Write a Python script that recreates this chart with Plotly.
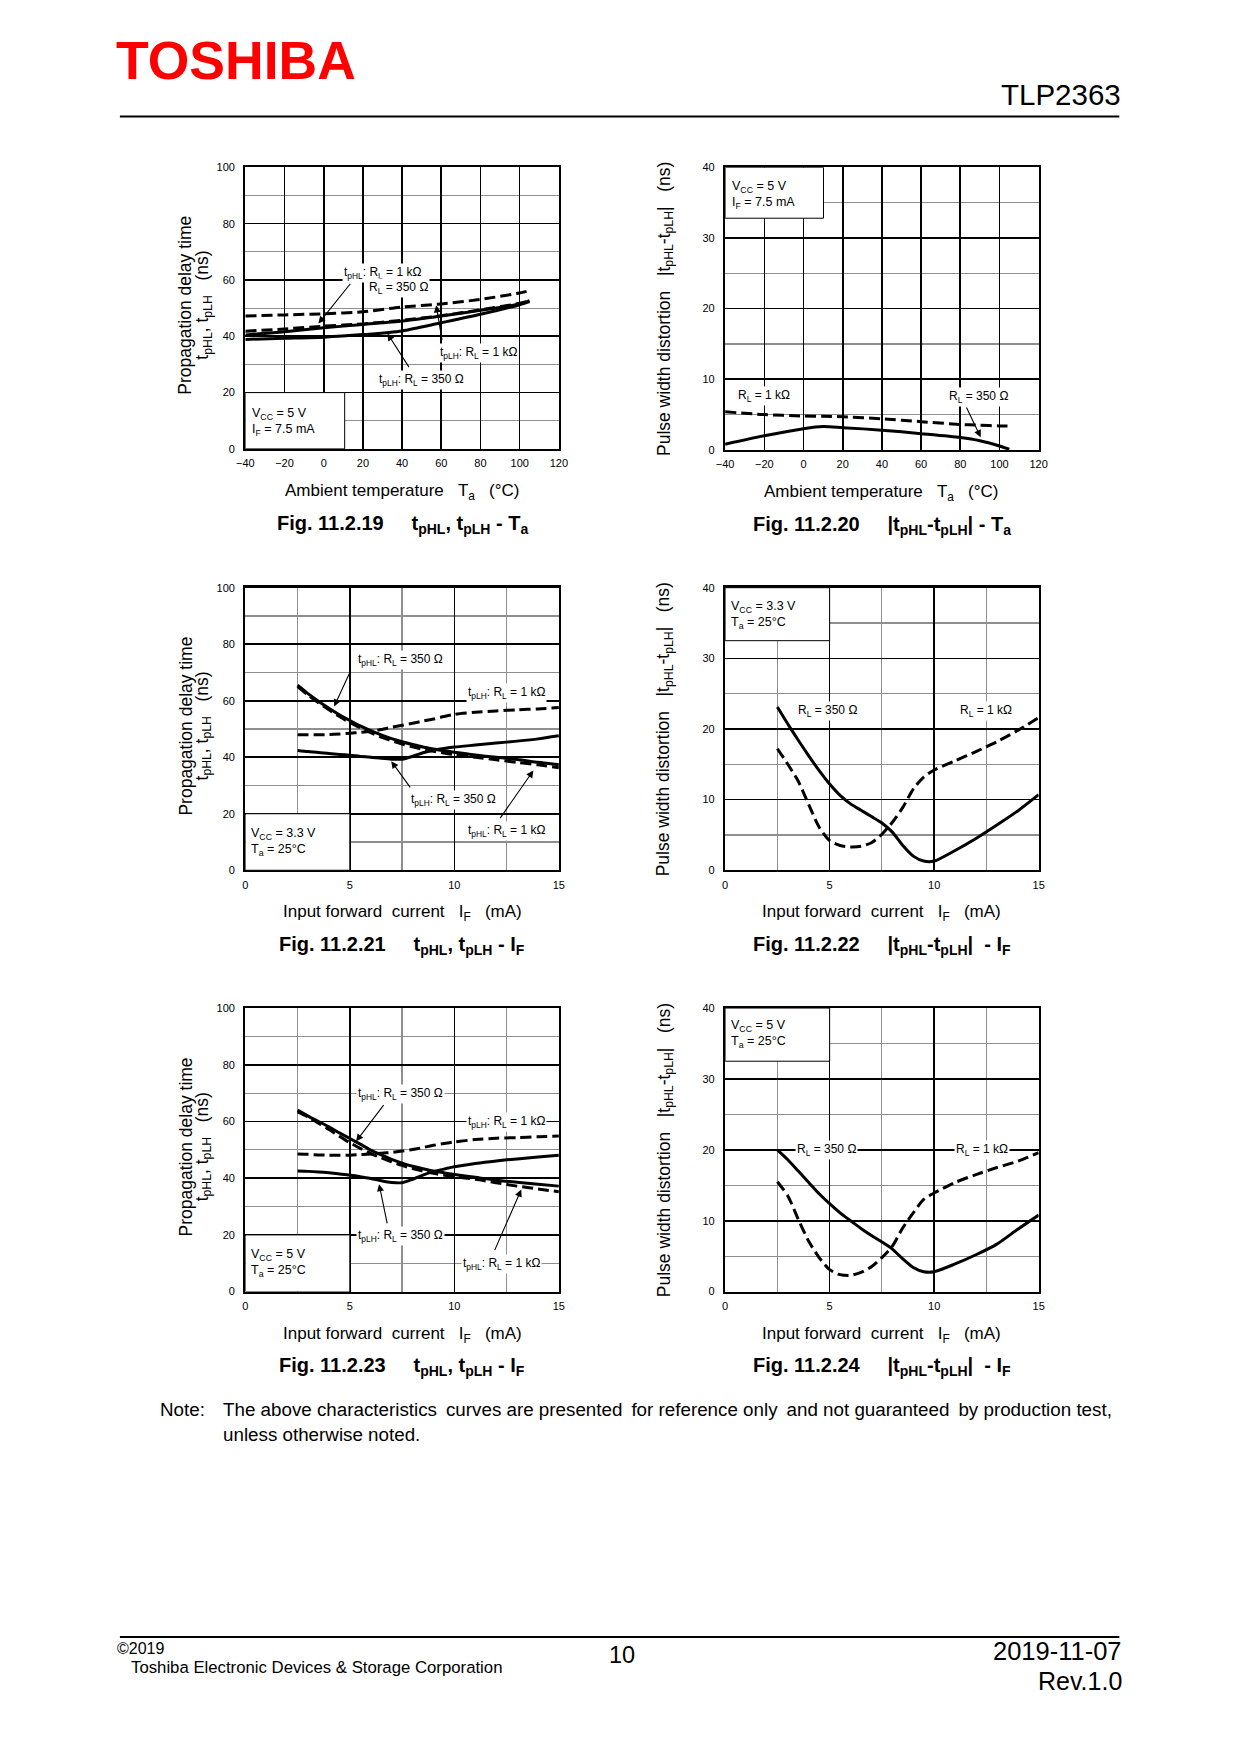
import plotly.graph_objects as go

W, H = 1240, 1754
FONT = "Arial, Liberation Sans, sans-serif"

# the photographed page comes out slightly shrunk and offset; these undo it so that
# positions below are the pixel positions wanted in the final picture
SX, OX = 0.990, 5.6
SY, OY = 0.9947, 4.4


def fx(x):
    return ((x - OX) / SX) / W


def fy(y):
    return 1 - ((y - OY) / SY) / H


# ---------------- data ----------------
# Fig. 11.2.19  tpHL, tpLH - Ta  (VCC = 5 V, IF = 7.5 mA)
ta19 = [-40, -20, 0, 20, 40, 60, 80, 100, 105]
fig19_tplh_1k = [47.2, 47.6, 48.0, 48.7, 50.4, 51.5, 53.1, 55.4, 56.2]
fig19_tphl_1k = [41.8, 42.6, 43.6, 44.4, 45.7, 47.3, 49.4, 51.7, 52.6]
fig19_tphl_350 = [40.5, 41.6, 43.0, 44.2, 45.4, 47.2, 49.2, 51.5, 52.7]
fig19_tplh_350 = [38.9, 39.3, 39.7, 40.6, 41.9, 44.8, 47.8, 51.2, 52.3]

# Fig. 11.2.20  |tpHL-tpLH| - Ta
ta20 = [-40, -20, 0, 10, 20, 40, 60, 80, 90, 100, 105]
fig20_1k = [5.4, 5.0, 4.8, 4.75, 4.7, 4.4, 4.0, 3.6, 3.5, 3.4, 3.4]
fig20_350 = [0.8, 2.0, 3.0, 3.3, 3.15, 2.8, 2.3, 1.75, 1.3, 0.56, 0.1]

# Input forward current axis for Fig. 11.2.21 - 11.2.24
if_ma = [2.5, 3, 3.5, 4, 4.5, 5, 5.5, 6, 6.5, 7, 7.5, 8, 8.5, 9, 9.5, 10, 11, 12, 13, 14, 15]

# Fig. 11.2.21  tpHL, tpLH - IF  (VCC = 3.3 V)
fig21_tphl_350 = [65.5, 62.5, 59.8, 57.3, 55.0, 53.0, 51.1, 49.4, 47.9, 46.6, 45.5, 44.5, 43.6, 42.9, 42.3, 41.8, 40.8, 40.0, 39.2, 38.2, 37.3]
fig21_tphl_1k = [65.0, 62.0, 59.3, 56.8, 54.4, 52.3, 50.4, 48.7, 47.1, 45.8, 44.7, 43.7, 42.8, 42.1, 41.5, 40.9, 40.0, 39.1, 38.2, 37.3, 36.3]
fig21_tplh_1k = [48.0, 48.0, 48.0, 48.0, 48.2, 48.5, 48.8, 49.2, 49.8, 50.6, 51.3, 52.0, 52.8, 53.5, 54.4, 55.2, 55.9, 56.4, 56.8, 57.1, 57.6]
fig21_tplh_350 = [42.4, 42.0, 41.7, 41.3, 41.0, 40.7, 40.3, 40.0, 39.6, 39.3, 39.3, 40.3, 41.6, 42.5, 43.1, 43.6, 44.3, 45.0, 45.7, 46.5, 47.6]

# Fig. 11.2.22  |tpHL-tpLH| - IF  (VCC = 3.3 V)
fig22_350 = [23.1, 20.7, 18.4, 16.2, 14.1, 12.2, 10.6, 9.4, 8.5, 7.6, 6.7, 5.4, 3.5, 2.0, 1.3, 1.3, 2.8, 4.5, 6.4, 8.4, 10.7]
fig22_1k = [17.2, 15.0, 12.6, 9.3, 6.1, 4.2, 3.5, 3.3, 3.4, 3.9, 5.1, 6.8, 8.9, 11.5, 13.2, 14.2, 15.5, 16.8, 18.2, 19.8, 21.6]

# Fig. 11.2.23  tpHL, tpLH - IF  (VCC = 5 V)
fig23_tphl_350 = [64.0, 61.9, 60.0, 58.1, 56.0, 54.0, 52.0, 49.9, 48.2, 46.6, 45.3, 44.2, 43.3, 42.5, 41.9, 41.3, 40.3, 39.3, 38.6, 37.9, 37.2]
fig23_tphl_1k = [63.4, 61.6, 59.4, 57.2, 54.8, 52.5, 50.5, 48.7, 47.2, 45.8, 44.5, 43.4, 42.5, 41.7, 41.1, 40.5, 39.6, 38.4, 37.2, 36.2, 35.2]
fig23_tplh_1k = [48.5, 48.4, 48.2, 48.1, 48.1, 48.1, 48.3, 48.5, 48.8, 49.1, 49.6, 50.1, 50.8, 51.6, 52.2, 52.8, 53.6, 54.1, 54.3, 54.6, 54.9]
fig23_tplh_350 = [42.5, 42.4, 42.2, 41.9, 41.5, 41.1, 40.5, 39.9, 39.1, 38.5, 38.4, 39.6, 41.1, 42.3, 43.2, 44.0, 45.2, 46.1, 46.8, 47.5, 48.1]

# Fig. 11.2.24  |tpHL-tpLH| - IF  (VCC = 5 V)
fig24_350 = [20.0, 18.6, 17.0, 15.4, 13.8, 12.4, 11.1, 10.0, 8.9, 7.9, 7.0, 6.0, 4.6, 3.4, 2.8, 2.8, 3.9, 5.2, 6.7, 8.8, 10.8]
fig24_1k = [15.5, 13.5, 10.2, 7.1, 4.8, 3.1, 2.4, 2.3, 2.7, 3.5, 4.8, 6.4, 9.0, 11.1, 13.0, 13.9, 15.4, 16.5, 17.5, 18.4, 19.6]

# ---------------- text ----------------
NB = "\u00a0"
YT_DELAY_1 = "Propagation delay time"
YT_DELAY_2 = "t<sub>pHL</sub>, t<sub>pLH</sub>" + NB * 3 + "(ns)"
YT_PWD = "Pulse width distortion" + NB * 3 + "|t<sub>pHL</sub>-t<sub>pLH</sub>|" + NB * 3 + "(ns)"
XT_TA = "Ambient temperature" + NB * 3 + "T<sub>a</sub>" + NB * 3 + "(°C)"
XT_IF = "Input forward" + NB * 2 + "current" + NB * 3 + "I<sub>F</sub>" + NB * 3 + "(mA)"

CAP_DELAY_TA = "t<sub>pHL</sub>, t<sub>pLH</sub> - T<sub>a</sub>"
CAP_PWD_TA = "|t<sub>pHL</sub>-t<sub>pLH</sub>| - T<sub>a</sub>"
CAP_DELAY_IF = "t<sub>pHL</sub>, t<sub>pLH</sub> - I<sub>F</sub>"
CAP_PWD_IF = "|t<sub>pHL</sub>-t<sub>pLH</sub>|" + NB + " - I<sub>F</sub>"

L_HL_1K = "t<sub>pHL</sub>: R<sub>L</sub> = 1 kΩ"
L_HL_350 = "t<sub>pHL</sub>: R<sub>L</sub> = 350 Ω"
L_LH_1K = "t<sub>pLH</sub>: R<sub>L</sub> = 1 kΩ"
L_LH_350 = "t<sub>pLH</sub>: R<sub>L</sub> = 350 Ω"
L_1K = "R<sub>L</sub> = 1 kΩ"
L_350 = "R<sub>L</sub> = 350 Ω"

COND_5_75 = "V<sub>CC</sub> = 5 V<br>I<sub>F</sub> = 7.5 mA"
COND_33_25 = "V<sub>CC</sub> = 3.3 V<br>T<sub>a</sub> = 25°C"
COND_5_25 = "V<sub>CC</sub> = 5 V<br>T<sub>a</sub> = 25°C"

NOTE_1 = "The above characteristics curves are presented for reference only and not guaranteed by production test,"
NOTE_2 = "unless otherwise noted."


def justify(text, every=3):
    # the reference line is justified: widen some of the gaps a little
    words = text.split(" ")
    out = words[0]
    for i, w in enumerate(words[1:], start=1):
        out += (" \u2009" if i % every == 0 else " ") + w
    return out


SOLID = dict(color="black", width=3, shape="spline", smoothing=0.7)
DASHED = dict(color="black", width=3, dash="11px,5px", shape="spline", smoothing=0.7)

panels = [
    dict(n=1, l=243, t=166, r=558, b=448, xr=[-40, 120], xd=20, xm=None, yr=[0, 100], yd=20, ym=10,
         xt=XT_TA, yt=None, cap="Fig. 11.2.19", capt=CAP_DELAY_TA,
         series=[(ta19, fig19_tplh_1k, DASHED), (ta19, fig19_tphl_1k, DASHED),
                 (ta19, fig19_tphl_350, SOLID), (ta19, fig19_tplh_350, SOLID)],
         box=(-40, 0, 10.7, 20), cond=(COND_5_75, -37.6, 9.6),
         labels=[(L_HL_1K, 29.8, 62.5), ("R<sub>L</sub> = 350 Ω", 38.2, 57.0),
                 (L_LH_1K, 78.9, 34.2), (L_LH_350, 49.7, 24.4)],
         arrows=[(14.2, 59.2, -2.7, 44.5), (60.5, 38.2, 57.4, 51.0), (44.0, 28.5, 32.5, 41.0)]),
    dict(n=2, l=725, t=166, r=1040, b=449, xr=[-40, 120], xd=20, xm=None, yr=[0, 40], yd=10, ym=5,
         xt=XT_TA, yt=YT_PWD, cap="Fig. 11.2.20", capt=CAP_PWD_TA,
         series=[(ta20, fig20_1k, DASHED), (ta20, fig20_350, SOLID)],
         box=(-40, 32.8, 10.2, 40), cond=(COND_5_75, -37.6, 36.1),
         labels=[(L_1K, -20.2, 7.6), (L_350, 89.5, 7.5)],
         arrows=[(82.8, 6.2, 90.4, 1.8)]),
    dict(n=3, l=243, t=587, r=558, b=870, xr=[0, 15], xd=5, xm=2.5, yr=[0, 100], yd=20, ym=10,
         xt=XT_IF, yt=None, cap="Fig. 11.2.21", capt=CAP_DELAY_IF,
         series=[(if_ma, fig21_tplh_1k, DASHED), (if_ma, fig21_tphl_1k, DASHED),
                 (if_ma, fig21_tphl_350, SOLID), (if_ma, fig21_tplh_350, SOLID)],
         box=(0, 0, 5, 20), cond=(COND_33_25, 0.2, 10.0),
         labels=[(L_HL_350, 7.4, 74.4), (L_LH_1K, 12.5, 62.6), (L_LH_350, 9.95, 24.7), (L_HL_1K, 12.5, 13.8)],
         arrows=[(5.05, 70.8, 4.25, 58.0), (7.94, 28.8, 6.98, 38.6), (12.14, 17.9, 13.78, 35.3)]),
    dict(n=4, l=725, t=587, r=1040, b=870, xr=[0, 15], xd=5, xm=2.5, yr=[0, 40], yd=10, ym=5,
         xt=XT_IF, yt=YT_PWD, cap="Fig. 11.2.22", capt=CAP_PWD_IF,
         series=[(if_ma, fig22_1k, DASHED), (if_ma, fig22_350, SOLID)],
         box=(0, 32.5, 5, 40), cond=(COND_33_25, 0.2, 36.2),
         labels=[(L_350, 4.9, 22.6), (L_1K, 12.46, 22.5)],
         arrows=[]),
    dict(n=5, l=243, t=1008, r=558, b=1292, xr=[0, 15], xd=5, xm=2.5, yr=[0, 100], yd=20, ym=10,
         xt=XT_IF, yt=None, cap="Fig. 11.2.23", capt=CAP_DELAY_IF,
         series=[(if_ma, fig23_tplh_1k, DASHED), (if_ma, fig23_tphl_1k, DASHED),
                 (if_ma, fig23_tphl_350, SOLID), (if_ma, fig23_tplh_350, SOLID)],
         box=(0, 0, 5, 20), cond=(COND_5_25, 0.2, 10.2),
         labels=[(L_HL_350, 7.4, 69.8), (L_LH_1K, 12.5, 59.9), (L_LH_350, 7.4, 19.7), (L_HL_1K, 12.25, 9.7)],
         arrows=[(6.67, 66.3, 5.3, 53.0), (6.8, 23.5, 6.4, 37.9), (11.9, 14.1, 13.2, 36.0)]),
    dict(n=6, l=725, t=1008, r=1040, b=1292, xr=[0, 15], xd=5, xm=2.5, yr=[0, 40], yd=10, ym=5,
         xt=XT_IF, yt=YT_PWD, cap="Fig. 11.2.24", capt=CAP_PWD_IF,
         series=[(if_ma, fig24_1k, DASHED), (if_ma, fig24_350, SOLID)],
         box=(0, 32.5, 5, 40), cond=(COND_5_25, 0.2, 36.3),
         labels=[(L_350, 4.84, 19.95), (L_1K, 12.3, 19.95)],
         arrows=[]),
]

fig = go.Figure()
layout = dict(
    width=W, height=H, margin=dict(l=0, r=0, t=0, b=0),
    paper_bgcolor="white", plot_bgcolor="white", showlegend=False,
    font=dict(family=FONT, color="black"),
)
annotations = []
shapes = []

MAJOR = "black"
MINOR = "#8f8f8f"


def ptext(text, x, y, size, xanchor="center", yanchor="middle", angle=0, color="black", align="center"):
    return dict(text=text, xref="paper", yref="paper", x=fx(x), y=fy(y), xanchor=xanchor, yanchor=yanchor,
                textangle=angle, showarrow=False, align=align, borderpad=0,
                font=dict(size=size, family=FONT, color=color))


for p in panels:
    n = p["n"]
    xa = "xaxis" if n == 1 else f"xaxis{n}"
    ya = "yaxis" if n == 1 else f"yaxis{n}"
    xid = "x" if n == 1 else f"x{n}"
    yid = "y" if n == 1 else f"y{n}"
    xcfg = dict(domain=[fx(p["l"]), fx(p["r"])], range=p["xr"], anchor=yid, dtick=p["xd"], tick0=0,
                showgrid=True, gridcolor=MAJOR, gridwidth=1.6, zeroline=False,
                showline=True, linecolor="black", linewidth=2.2, mirror=True, ticks="",
                tickfont=dict(size=11, family=FONT), ticklabelstandoff=3, fixedrange=True)
    if p["xm"]:
        xcfg["minor"] = dict(dtick=p["xm"], tick0=0, showgrid=True, gridcolor=MINOR, gridwidth=1.2, ticks="")
    ycfg = dict(domain=[fy(p["b"]), fy(p["t"])], range=p["yr"], anchor=xid, dtick=p["yd"], tick0=0,
                showgrid=True, gridcolor=MAJOR, gridwidth=1.6, zeroline=False,
                showline=True, linecolor="black", linewidth=2.2, mirror=True, ticks="",
                tickfont=dict(size=11, family=FONT), ticklabelstandoff=6, fixedrange=True)
    if p["ym"]:
        ycfg["minor"] = dict(dtick=p["ym"], tick0=0, showgrid=True, gridcolor=MINOR, gridwidth=1.2, ticks="")
    layout[xa] = xcfg
    layout[ya] = ycfg

    for xs, ys, ln in p["series"]:
        fig.add_trace(go.Scatter(x=xs, y=ys, mode="lines", line=ln, xaxis=xid, yaxis=yid,
                                 hoverinfo="skip"))

    # condition box
    x0, y0, x1, y1 = p["box"]
    shapes.append(dict(type="rect", xref=xid, yref=yid, x0=x0, y0=y0, x1=x1, y1=y1,
                       fillcolor="white", line=dict(color="black", width=1), layer="above"))
    ctext, cx, cy = p["cond"]
    annotations.append(dict(text=ctext, xref=xid, yref=yid, x=cx, y=cy, xanchor="left", yanchor="middle",
                            align="left", showarrow=False, font=dict(size=12.5, family=FONT)))

    for txt, lx, ly in p["labels"]:
        annotations.append(dict(text=txt, xref=xid, yref=yid, x=lx, y=ly, xanchor="center", yanchor="middle",
                                showarrow=False, bgcolor="white", borderpad=1, font=dict(size=12, family=FONT)))
    for tx, ty, hx, hy in p["arrows"]:
        annotations.append(dict(text="", xref=xid, yref=yid, x=hx, y=hy, axref=xid, ayref=yid, ax=tx, ay=ty,
                                showarrow=True, arrowhead=2, arrowsize=1.3, arrowwidth=1.1, arrowcolor="black",
                                standoff=0))

    cxm = (p["l"] + p["r"]) / 2
    cym = (p["t"] + p["b"]) / 2
    annotations.append(ptext(p["xt"], cxm, p["b"] + 43, 17))
    if p["yt"] is None:
        annotations.append(ptext(YT_DELAY_1, p["l"] - 60, cym - 3, 17.5, angle=-90))
        annotations.append(ptext(YT_DELAY_2, p["l"] - 42, cym - 3, 17.5, angle=-90))
    else:
        annotations.append(ptext(p["yt"], p["l"] - 60, cym, 17.5, angle=-90))
    annotations.append(ptext("<b>" + p["cap"] + NB * 5 + p["capt"] + "</b>", cxm, p["b"] + 75.5, 20))

# header / footer
annotations += [
    ptext("<b>TOSHIBA</b>", 112, 59, 53.5, xanchor="left", color="#ff0000"),
    ptext("TLP2363", 1124, 93, 29.5, xanchor="right"),
    ptext("Note:", 156, 1410.5, 18.8, xanchor="left"),
    ptext(justify(NOTE_1), 220, 1410.5, 18.8, xanchor="left"),
    ptext(NOTE_2, 220, 1435.5, 18.8, xanchor="left"),
    ptext("©2019", 113.5, 1649, 16, xanchor="left"),
    ptext("Toshiba Electronic Devices & Storage Corporation", 127, 1668.5, 16.75, xanchor="left"),
    ptext("10", 621, 1656, 23.5),
    ptext("2019-11-07", 1124.5, 1652, 25.5, xanchor="right"),
    ptext("Rev.1.0", 1124.5, 1681.5, 25, xanchor="right"),
]
shapes += [
    dict(type="line", xref="paper", yref="paper", x0=fx(117), x1=fx(1121), y0=fy(115), y1=fy(115),
         line=dict(color="black", width=2)),
    dict(type="line", xref="paper", yref="paper", x0=fx(117), x1=fx(1121), y0=fy(1638), y1=fy(1638),
         line=dict(color="black", width=2)),
]

layout["annotations"] = annotations
layout["shapes"] = shapes
fig.update_layout(**layout)

PAGE_CSS = ("var s=document.createElement('style');"
            "s.textContent='html,body{margin:0;padding:0;overflow:hidden;width:1240px;height:1754px;}';"
            "document.head.appendChild(s);")
fig.write_html("out.html", config=dict(displayModeBar=False, staticPlot=True), post_script=PAGE_CSS)
